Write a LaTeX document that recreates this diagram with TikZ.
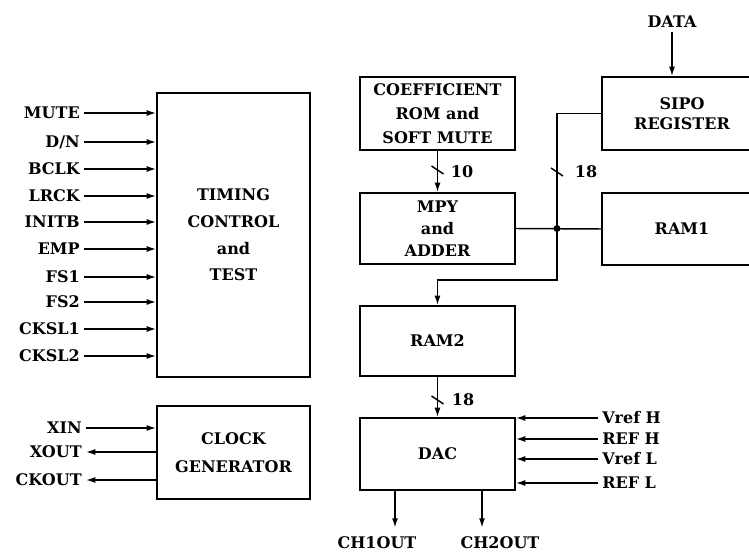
\documentclass[tikz,border=0pt]{standalone}
\usepackage{fontspec}
\setmainfont{DejaVu Serif}
\usetikzlibrary{arrows.meta, positioning, calc}
\tikzset{
  >={Latex[length=7pt,width=4.5pt]},
  blk/.style={
    draw, line width=1.4pt, align=center, inner sep=0pt,
    font=\bfseries\fontsize{12}{#1}\selectfont
  },
  blk/.default=18pt,
  wire/.style={line width=1.1pt},
  arr/.style={wire, ->},
  lbl/.style={inner sep=3pt, text height=8.7pt, text depth=0pt,
    font=\bfseries\fontsize{12}{14}\selectfont}
}
\newcommand{\buscut}[1]{\draw[wire] ([shift={(-6,-4)}]#1) -- ([shift={(6,4)}]#1);}

\begin{document}
\begin{tikzpicture}[x=0.75pt, y=-0.75pt]
  \useasboundingbox (0,0) rectangle (749,552);
  \clip (0,0) rectangle (749,552);

  % left column
  \node[blk=20pt, minimum width=114.75pt, minimum height=213pt] (tc) at (233.5,235)
    {TIMING\\CONTROL\\and\\TEST};
  \node[blk=21pt, minimum width=114.75pt, minimum height=69.75pt] (cg) at (233.5,452.5)
    {CLOCK\\GENERATOR};

  \foreach \y/\t [count=\i] in {113/MUTE, 142/{D/N}, 169/BCLK, 196/LRCK, 222/INITB,
      249/EMP, 277/FS1, 302/FS2, 329/CKSL1, 356/CKSL2} {
    \node[lbl, anchor=east] (in\i) at (84,\y) {\t};
    \draw[arr] (in\i.east) -- (in\i.east -| tc.west);
  }

  \node[lbl, anchor=east] (xin) at (86,428) {XIN};
  \node[lbl, anchor=east] (xout) at (86,452) {XOUT};
  \node[lbl, anchor=east] (ckout) at (86,480) {CKOUT};
  \draw[arr] (xin.east) -- (xin.east -| cg.west);
  \draw[arr] (xout.east -| cg.west) -- (xout.east);
  \draw[arr] (ckout.east -| cg.west) -- (ckout.east);

  % signal path
  \node[blk=18pt, minimum width=116.25pt, minimum height=54.75pt] (rom) at (437.5,113.5)
    {COEFFICIENT\\ROM and\\SOFT MUTE};
  \node[blk=16.5pt, minimum width=116.25pt, minimum height=53.25pt] (mpy) at (437.5,228.5)
    {MPY\\and\\ADDER};
  \node[blk, minimum width=116.25pt, minimum height=52.5pt] (ram2) at (437.5,341) {RAM2};
  \node[blk, minimum width=116.25pt, minimum height=54pt] (dac) at (437.5,454) {DAC};
  \node[blk=15pt, minimum width=120pt, minimum height=54.75pt] (sipo) at (682,113.5)
    {SIPO\\REGISTER};
  \node[blk, minimum width=120pt, minimum height=54pt] (ram1) at (682,229) {RAM1};

  \node[lbl] (data) at (672,22) {DATA};
  \draw[arr] (data.south) -- (data.south |- sipo.north);

  \coordinate (c10) at (437.5,170);
  \coordinate (c18a) at (557,172);
  \coordinate (c18b) at (437.5,400);

  \draw[arr] (rom) -- (mpy);
  \buscut{c10}
  \node[lbl] (w10) at (462,172) {10};

  \coordinate (bend) at (557,280);
  \coordinate (jn) at (bend |- mpy.east);
  \draw[arr] (sipo.west) -| (bend) -| (ram2.north);
  \draw[wire] (mpy.east) -- (ram1.west);
  \fill (jn) circle (2.6pt);
  \buscut{c18a}
  \node[lbl] (w18a) at (586,172) {18};

  \draw[arr] (ram2) -- (dac);
  \buscut{c18b}
  \node[lbl] (w18b) at (463,400) {18};

  % references
  \foreach \y/\t [count=\i] in {418/Vref H, 439/REF H, 459/Vref L, 483/REF L} {
    \node[lbl, anchor=west] (rf\i) at (598,\y) {\t};
    \draw[arr] (rf\i.west) -- (rf\i.west -| dac.east);
  }

  % outputs
  \coordinate (o1) at ($(dac.south)+(-42.5,0)$);
  \coordinate (o2) at ($(dac.south)+(44.5,0)$);
  \node[lbl] (ch1) at (377,543) {CH1OUT};
  \node[lbl] (ch2) at (500,543) {CH2OUT};
  \draw[arr, shorten >=4pt] (o1) -- (o1 |- ch1.north);
  \draw[arr, shorten >=4pt] (o2) -- (o2 |- ch2.north);
\end{tikzpicture}
\end{document}
